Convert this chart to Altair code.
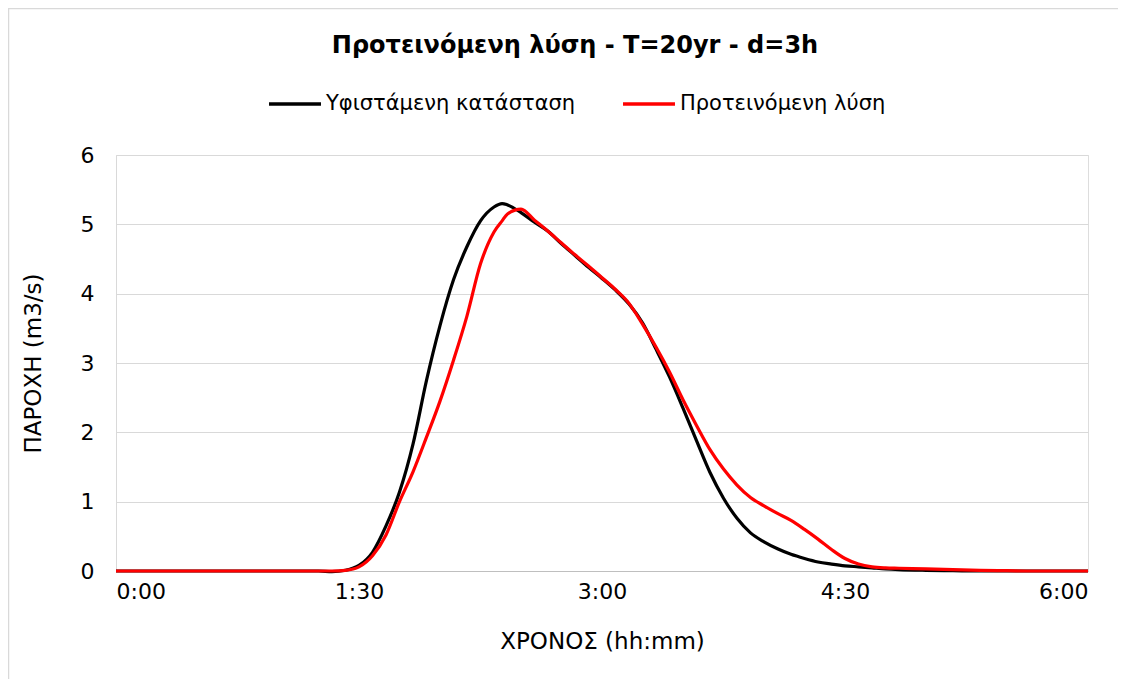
import altair as alt
import pandas as pd

# time in minutes from start
times = [0, 30, 60, 75, 80, 85, 90, 95, 100, 105, 110, 115, 120, 125, 130, 135, 140, 143, 145,
         150, 155, 160, 165, 170, 175, 180, 185, 190, 195, 200, 205, 210, 215, 220, 225, 230,
         235, 240, 245, 250, 255, 260, 265, 270, 275, 280, 285, 290, 300, 310, 320, 330, 340, 360]

existing = [0, 0, 0, 0, -0.01, 0.01, 0.08, 0.27, 0.65, 1.14, 1.83, 2.75, 3.54, 4.2, 4.68, 5.05, 5.25, 5.3, 5.28,
            5.17, 5.03, 4.9, 4.72, 4.55, 4.38, 4.22, 4.05, 3.85, 3.58, 3.2, 2.8, 2.35, 1.88, 1.42, 1.05, 0.76,
            0.55, 0.42, 0.32, 0.24, 0.18, 0.13, 0.1, 0.075, 0.06, 0.045, 0.03, 0.02, 0.01, 0.005, 0, 0, 0, 0]

proposed = [0, 0, 0, 0, 0, 0.01, 0.06, 0.22, 0.52, 1.0, 1.43, 1.93, 2.45, 3.04, 3.68, 4.43, 4.89, 5.05, 5.15,
            5.22, 5.06, 4.9, 4.73, 4.56, 4.4, 4.23, 4.06, 3.86, 3.56, 3.23, 2.87, 2.47, 2.1, 1.75, 1.47, 1.24,
            1.06, 0.94, 0.83, 0.73, 0.6, 0.46, 0.31, 0.18, 0.1, 0.06, 0.045, 0.04, 0.03, 0.02, 0.01, 0.005, 0, 0]

series_names = ["Υφιστάμενη κατάσταση", "Προτεινόμενη λύση"]
series_colors = ["#000000", "#ff0000"]
x_ticks = [0, 90, 180, 270, 360]
y_ticks = [0, 1, 2, 3, 4, 5, 6]

title_text = "Προτεινόμενη λύση - T=20yr - d=3h"
x_title = "ΧΡΟΝΟΣ (hh:mm)"
y_title = "ΠΑΡΟΧΗ (m3/s)"

rows = []
for t, v in zip(times, existing):
    rows.append({"t": t, "q": v, "series": series_names[0]})
for t, v in zip(times, proposed):
    rows.append({"t": t, "q": v, "series": series_names[1]})
df = pd.DataFrame(rows)

FONT = "DejaVu Sans"

lines = alt.Chart(df).mark_line(strokeWidth=3.2, interpolate="monotone").encode(
    x=alt.X("t:Q", scale=alt.Scale(domain=[0, 360], nice=False),
            axis=alt.Axis(values=x_ticks, title=x_title, grid=False, ticks=False,
                          labelExpr="floor(datum.value/60) + ':' + (datum.value % 60 < 10 ? '0' : '') + (datum.value % 60)",
                          labelPadding=10, titlePadding=28, domainColor="#bfbfbf",
                          labelFontSize=22, titleFontSize=23, titleFontWeight="normal",
                          labelColor="#000000", titleColor="#000000", labelFont=FONT, titleFont=FONT)),
    y=alt.Y("q:Q", scale=alt.Scale(domain=[0, 6], nice=False),
            axis=alt.Axis(values=y_ticks, format="d", title=y_title, ticks=False,
                          gridColor="#d9d9d9", gridWidth=1, domainColor="#d9d9d9",
                          labelPadding=22, titlePadding=35,
                          labelFontSize=22, titleFontSize=23, titleFontWeight="normal",
                          labelColor="#000000", titleColor="#000000", labelFont=FONT, titleFont=FONT)),
    color=alt.Color("series:N", sort=series_names,
                    scale=alt.Scale(domain=series_names, range=series_colors),
                    legend=alt.Legend(title=None, orient="none", direction="horizontal",
                                      legendX=151, legendY=-79,
                                      symbolType="stroke", symbolSize=2700, symbolStrokeWidth=3.5,
                                      labelFontSize=21, labelFont=FONT, labelColor="#000000",
                                      labelLimit=500, labelOffset=3, columnPadding=40)),
)

border_df = pd.DataFrame({"k": [1]})
border = alt.Chart(border_df).mark_rect(fill=None, stroke="#d9d9d9", strokeWidth=1.5, clip=False).encode(
    x=alt.value(-107.5), x2=alt.value(1040), y=alt.value(-146.5), y2=alt.value(600)
)

chart = alt.layer(border, lines).properties(
    width=972, height=416,
    title=alt.Title(title_text, fontSize=24, fontWeight="bold", font=FONT, color="#000000",
                    anchor="middle", dx=-27, offset=-50),
    autosize=alt.AutoSizeParams(type="none"),
    padding={"left": 108, "top": 147, "right": 30, "bottom": 108},
).configure_view(stroke=None).configure(background="#ffffff")

chart.save("out.html", embed_options={"renderer": "svg", "actions": False})
